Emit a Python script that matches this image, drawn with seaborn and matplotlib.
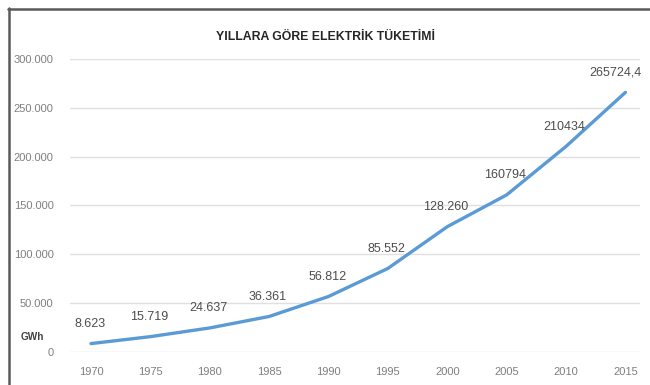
import matplotlib
matplotlib.use("Agg")
import matplotlib.pyplot as plt
from matplotlib.lines import Line2D
import seaborn as sns
import pandas as pd

# Annual electricity consumption (GWh)
years = ["1970", "1975", "1980", "1985", "1990", "1995", "2000", "2005", "2010", "2015"]
consumption = [8623, 15719, 24637, 36361, 56812, 85552, 128260, 160794, 210434, 265724.4]
value_labels = ["8.623", "15.719", "24.637", "36.361", "56.812", "85.552",
                "128.260", "160794", "210434", "265724,4"]
y_ticks = [0, 50000, 100000, 150000, 200000, 250000, 300000]

df = pd.DataFrame({"year": years, "gwh": consumption})
df["pos"] = range(len(df))

sns.set_theme(style="white")
plt.rcParams["font.family"] = ["Liberation Sans", "DejaVu Sans"]

fig = plt.figure(figsize=(6.5, 3.85), dpi=100)
ax = fig.add_axes([0.108, 0.0857, 0.877, 0.7613])

sns.lineplot(data=df, x="pos", y="gwh", ax=ax, color="#5b9bd5", linewidth=2.4,
             solid_capstyle="round")

last = len(df) - 1
for p, v, lab in zip(df["pos"], consumption, value_labels):
    dx = -7 if p == last else -1
    ax.annotate(lab, (p, v), xytext=(dx, 14), textcoords="offset points",
                ha="center", va="center", fontsize=9, color="#4d4d4d")

ax.set_ylim(0, 300000)
ax.set_xlim(-0.35, 9.25)
ax.set_yticks(y_ticks)
ax.set_yticklabels([f"{t:,}".replace(",", ".") for t in y_ticks])
ax.set_xticks(df["pos"])
ax.set_xticklabels(years)
ax.tick_params(axis="both", length=0, labelsize=8, labelcolor="#7f7f7f")
ax.tick_params(axis="x", pad=11)
ax.tick_params(axis="y", pad=12)
ax.yaxis.grid(True, color="#e0e0e0", linewidth=1)
for s in ax.spines.values():
    s.set_visible(False)
ax.set_xlabel("")
ax.set_ylabel("")

fig.text(0.5, 1 - 37 / 385, "YILLARA GÖRE ELEKTRİK TÜKETİMİ", ha="center", va="center",
         fontsize=8.8, fontweight="bold", color="#262626")
fig.text(32 / 650, 1 - 337 / 385, "GWh", ha="center", va="center",
         fontsize=7.2, fontweight="bold", color="#404040")

# chart frame
fig.add_artist(Line2D([8 / 650, 1], [1 - 9 / 385, 1 - 9 / 385], color="#5a5a5a",
                      linewidth=1.8, transform=fig.transFigure))
fig.add_artist(Line2D([9 / 650, 9 / 650], [1 - 8 / 385, 0], color="#5a5a5a",
                      linewidth=1.8, transform=fig.transFigure))

fig.savefig("out.png", dpi=100, facecolor="white")
